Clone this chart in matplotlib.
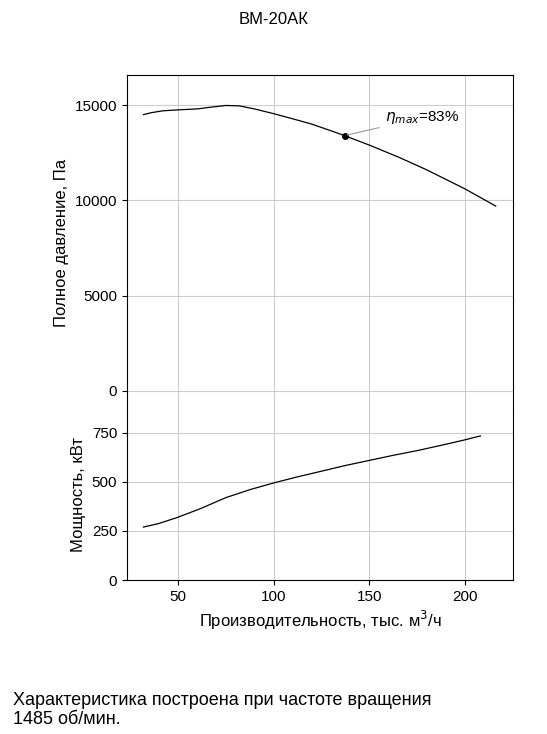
import matplotlib
matplotlib.use("Agg")
import matplotlib.pyplot as plt
import numpy as np

flow_p = [32, 36, 42, 50, 60, 68, 75, 82, 90, 100, 110, 120, 130, 137, 150, 165, 180, 200, 216]
pressure = [14500, 14600, 14700, 14750, 14800, 14900, 14980, 14960, 14800, 14550, 14280, 14000, 13650, 13400, 12900, 12280, 11600, 10600, 9700]
flow_n = [32, 40, 50, 62, 75, 88, 100, 112, 125, 137, 150, 162, 175, 188, 200, 208]
power = [270, 288, 320, 365, 420, 462, 495, 525, 555, 583, 610, 635, 660, 688, 715, 735]
eta_flow, eta_p = 137, 13400

plt.rcParams['font.family'] = ['Liberation Sans', 'DejaVu Sans']
W, H = 547, 734
fig = plt.figure(figsize=(W/100, H/100), dpi=100)
L, R = 127/W, 513/W
ax1 = fig.add_axes([L, 1-410/H, R-L, (410-75)/H])
ax2 = fig.add_axes([L, 1-580/H, R-L, (580-410)/H], sharex=ax1)

ax1.plot(flow_p, pressure, color='black', lw=0.9)
ax1.plot([eta_flow], [eta_p], 'o', color='black', ms=4)
ax1.annotate(r'$\eta_{max}$=83%', xy=(eta_flow, eta_p), xytext=(158, 14150),
             fontsize=11, arrowprops=dict(arrowstyle='-', color='#999999', lw=0.8))
ax1.set_ylim(-1000, 16580)
ax1.set_yticks([0, 5000, 10000, 15000])
ax1.set_ylabel('Полное давление, Па', fontsize=12)
ax1.tick_params(labelbottom=False, bottom=False)
ax1.spines['bottom'].set_visible(False)

ax2.plot(flow_n, power, color='black', lw=0.9)
ax2.set_ylim(0, 867)
ax2.set_yticks([0, 250, 500, 750])
ax2.set_ylabel('Мощность, кВт', fontsize=12)
ax2.spines['top'].set_visible(False)
ax2.set_xlim(23.4, 225)
ax2.set_xticks([50, 100, 150, 200])
ax2.set_xlabel('Производительность, тыс. м$^3$/ч', fontsize=12)

for a in (ax1, ax2):
    a.grid(True, color='#cccccc', lw=0.8)
    a.tick_params(labelsize=11)
    a.set_axisbelow(True)

fig.text(0.5, 1-20/H, 'ВМ-20АК', ha='center', va='center', fontsize=12)
fig.text(13/W, 1-710/H, 'Характеристика построена при частоте вращения\n1485 об/мин.',
         ha='left', va='center', fontsize=13, linespacing=1.1)
fig.savefig('out.png', dpi=100)
